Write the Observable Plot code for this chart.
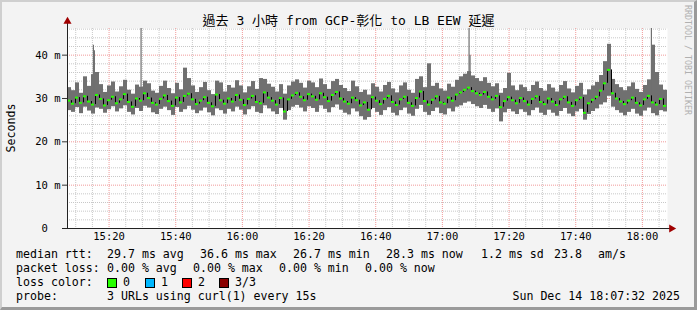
<!DOCTYPE html>
<html>
<head>
<meta charset="utf-8">
<script src="https://cdn.jsdelivr.net/npm/d3@7"></script>
<script src="https://cdn.jsdelivr.net/npm/@observablehq/plot@0.6"></script>
<style>
  html, body { margin: 0; padding: 0; background: #f3f3f3; }
  #wrap { position: relative; width: 697px; height: 310px; background: #f3f3f3; overflow: hidden;
          font-family: "DejaVu Sans Mono", "Noto Sans CJK TC", monospace; color: #000; }
  #wrap svg { position: absolute; left: 0; top: 0; }
  .t { position: absolute; white-space: pre; font-size: 11.6px; line-height: 14px; }
  .box { position: absolute; width: 8px; height: 8px; border: 1px solid #000; }
  #border { position: absolute; inset: 0; box-sizing: border-box; border-style: solid; border-width: 2px 3px 3px 2px;
            border-color: #cfcfcf #9a9a9a #9a9a9a #cfcfcf; pointer-events: none; }
</style>
</head>
<body>
<div id="wrap"></div>
<script>
// ---- data ----
const startMinute = 7.533;   // 15:07:32, minutes after 15:00
const stepMinutes = 1.2;     // one consolidated step
const medians = [
  29.5, 28.8, 30.2, 29.0, 30.5, 29.3, 28.6, 30.8, 29.9, 28.4,
  29.6, 30.4, 28.9, 29.8, 31.0, 29.2, 28.1, 30.0, 29.5, 31.2,
  30.1, 29.0, 28.6, 29.9, 30.7, 29.4, 28.3, 30.2, 29.1, 30.6,
  31.1, 29.8, 28.7, 29.5, 30.3, 29.0, 28.2, 30.9, 29.6, 28.8,
  30.0, 29.3, 30.8, 29.7, 28.5, 29.9, 30.6, 29.2, 28.9, 31.4,
  30.2, 29.5, 28.6, 30.1, 27.0, 29.8, 30.7, 31.3, 30.4, 29.6,
  31.0, 30.5, 29.7, 31.2, 30.3, 29.4, 30.8, 31.5, 30.0, 29.3,
  28.8, 30.2, 29.6, 28.4, 29.1, 27.4, 30.3, 29.5, 28.7, 29.9,
  30.6, 29.2, 28.5, 29.8, 30.4, 29.0, 28.3, 30.1, 31.6, 29.4,
  28.6, 29.7, 30.5, 29.1, 28.8, 30.2, 29.5, 30.9, 31.4, 32.0,
  32.5, 31.7, 31.2, 30.8, 31.5, 30.4, 29.8, 30.6, 28.0, 29.4,
  30.3, 29.6, 28.9, 30.1, 29.4, 28.6, 29.9, 30.5, 29.2, 28.7,
  30.0, 29.3, 28.5, 29.8, 30.4, 29.1, 28.3, 29.6, 30.2, 26.7,
  28.9, 29.7, 30.4, 31.8, 33.5, 36.6, 31.2, 30.0, 29.3, 28.7,
  29.5, 30.2, 29.0, 28.4, 29.8, 30.6, 29.1, 28.6, 29.9, 28.3
];
const lows = [
  27.2, 26.8, 27.9, 26.5, 28.0, 27.1, 26.4, 27.8, 27.5, 26.6,
  27.4, 28.1, 26.9, 27.6, 28.3, 26.8, 26.2, 27.7, 27.0, 28.2,
  27.8, 26.7, 26.3, 27.5, 28.0, 27.2, 26.1, 27.9, 26.8, 27.4,
  28.2, 27.3, 26.5, 27.1, 27.8, 26.7, 26.0, 27.6, 27.2, 26.4,
  27.5, 26.9, 28.0, 27.3, 26.2, 27.4, 28.1, 26.8, 26.5, 28.3,
  27.6, 26.9, 26.3, 27.7, 25.0, 27.2, 28.0, 28.4, 27.8, 26.9,
  28.1, 27.7, 26.8, 28.3, 27.5, 26.7, 27.9, 28.5, 27.3, 26.6,
  26.2, 27.6, 26.9, 25.8, 25.0, 25.6, 27.7, 26.8, 26.1, 27.2,
  27.9, 26.6, 26.0, 27.2, 27.8, 26.4, 25.9, 27.5, 28.4, 26.8,
  26.1, 27.0, 27.8, 26.5, 26.2, 27.6, 26.9, 28.0, 28.3, 28.9,
  29.2, 28.6, 28.1, 27.7, 28.4, 27.5, 26.8, 27.6, 24.6, 26.7,
  27.5, 26.9, 26.3, 27.4, 26.8, 26.0, 27.2, 27.8, 26.6, 26.1,
  27.3, 26.6, 25.9, 27.0, 27.7, 26.4, 25.8, 26.9, 27.5, 25.0,
  26.3, 27.0, 27.6, 28.5, 29.0, 30.5, 28.0, 27.2, 26.6, 26.0,
  26.8, 27.5, 26.4, 25.9, 27.1, 27.8, 26.5, 26.0, 27.2, 26.9
];
const highs = [
  32.5, 31.8, 33.6, 31.2, 35.0, 32.8, 35.5, 36.0, 33.2, 31.4,
  32.9, 33.8, 31.5, 32.7, 34.2, 31.9, 31.0, 33.1, 32.6, 34.0,
  33.4, 31.7, 31.2, 32.8, 34.0, 32.3, 31.1, 33.5, 32.0, 37.0,
  34.6, 32.9, 31.4, 32.5, 33.7, 31.8, 30.9, 34.0, 33.6, 31.5,
  33.0, 32.4, 34.1, 32.9, 31.3, 32.7, 33.9, 32.1, 34.6, 34.4,
  33.3, 32.6, 31.5, 33.2, 31.0, 32.9, 33.8, 34.3, 33.5, 32.4,
  34.0, 33.6, 32.5, 34.5, 33.2, 32.1, 33.9, 34.4, 33.0, 32.3,
  31.6, 34.0, 32.7, 31.4, 31.9, 30.8, 33.4, 32.6, 31.5, 33.0,
  33.7, 32.2, 31.3, 32.9, 33.6, 31.9, 31.2, 34.4, 35.0, 32.5,
  38.0, 32.8, 33.5, 32.2, 31.7, 33.3, 32.6, 34.2, 35.0, 35.6,
  36.2, 35.2, 34.6, 33.9, 34.8, 33.5, 32.7, 33.4, 31.2, 32.3,
  35.8, 32.9, 31.8, 33.1, 32.5, 31.6, 33.0, 33.8, 32.3, 31.7,
  33.2, 32.4, 31.5, 33.0, 33.9, 32.2, 31.3, 32.8, 33.5, 30.8,
  32.0, 32.9, 33.7, 35.3, 38.5, 42.5, 34.4, 33.2, 32.5, 31.8,
  32.7, 33.6, 32.1, 31.4, 33.0, 34.3, 42.3, 36.0, 33.1, 31.9
];
// single narrow probe spikes (minutes after 15:00, ms)
const spikeMinutes = [15.3, 15.6, 29.6, 128.0, 128.3, 182.7];
const spikeValues  = [42.3, 41.0, 46.5, 46.5, 40.0, 46.5];

const yTicks = [0, 10, 20, 30, 40];
const yTickLabels = ["0\u00a0\u00a0", "10 m", "20 m", "30 m", "40 m"];
const xTickLabels = ["15:20", "15:40", "16:00", "16:20", "16:40", "17:00", "17:20", "17:40", "18:00"];
const yMax = 46.15;

const title = "過去 3 小時 from GCP-彰化 to LB EEW 延遲";
const yLabel = "Seconds";
const legendRtt = [["median rtt:", 16], ["29.7 ms avg", 107], ["36.6 ms max", 200], ["26.7 ms min", 293], ["28.3 ms now", 386], ["1.2 ms sd", 481], ["23.8", 554], ["am/s", 598]];
const legendLoss = [["packet loss:", 16], ["0.00 % avg", 107], ["0.00 % max", 193], ["0.00 % min", 279], ["0.00 % now", 365]];
const lossColors = [["0", "#26ff00", 107], ["1", "#00b8ff", 145], ["2", "#ff0000", 182], ["3/3", "#8a0000", 219]];
const probeText = "3 URLs using curl(1) every 15s";
const stamp = "Sun Dec 14 18:07:32 2025";

// ---- build ----
const toMin = s => { const [h, m] = s.split(":").map(Number); return (h - 15) * 60 + m; };
const xTicks = xTickLabels.map(toMin);
const x0 = startMinute, x1 = startMinute + 180;
const rows = medians.map((m, i) => ({
  t: startMinute + i * stepMinutes, t2: startMinute + (i + 1) * stepMinutes,
  med: m, lo: lows[i], hi: highs[i], prev: i > 0 ? medians[i - 1] : m
}));
const spikes = spikeMinutes.map((t, i) => ({ t, v: spikeValues[i] }));
const minorX = d3.range(10, 186, 5).filter(v => v % 20 !== 0);
const minorY = d3.range(2, 46.1, 2).filter(v => v % 10 !== 0);
const mono = "DejaVu Sans Mono, monospace";

const chart = Plot.plot({
  width: 697, height: 245,
  marginLeft: 67, marginRight: 30, marginTop: 28, marginBottom: 17,
  style: { background: "transparent", fontFamily: mono, color: "#000", overflow: "visible" },
  x: { domain: [x0, x1], axis: null },
  y: { domain: [0, yMax], axis: null },
  marks: [
    Plot.frame({ fill: "white", stroke: null }),
    Plot.gridX(minorX, { stroke: "#c8c8c8", strokeOpacity: 1, strokeDasharray: "1,1" }),
    Plot.gridY(minorY, { stroke: "#c8c8c8", strokeOpacity: 1, strokeDasharray: "1,1" }),
    Plot.gridX(xTicks, { stroke: "#f19a9a", strokeOpacity: 1, strokeDasharray: "1,1" }),
    Plot.gridY(yTicks.filter(v => v > 0), { stroke: "#f19a9a", strokeOpacity: 1, strokeDasharray: "1,1" }),
    Plot.rectY(rows, { x1: "t", x2: "t2", y1: "lo", y2: "hi", fill: "#707070", clip: true }),
    Plot.ruleX(spikes, { x: "t", y1: 30, y2: "v", stroke: "#707070", strokeWidth: 1.2, clip: true }),
    Plot.ruleX(rows.slice(1), { x: "t", y1: "prev", y2: "med", stroke: "#000", strokeWidth: 1 }),
    Plot.ruleY(rows, { y: "med", x1: "t", x2: "t2", stroke: "#26ff00", strokeWidth: 2, insetRight: 1 }),
    Plot.axisY(yTicks, { tickSize: 5, tickPadding: 2, tickFormat: (d, i) => yTickLabels[i], fontSize: 10.5, stroke: "#333" }),
    Plot.axisX(xTicks, { tickSize: 0, tickPadding: 4, tickFormat: (d, i) => xTickLabels[i], fontSize: 10.5 }),
    Plot.ruleY([0], { stroke: "#222", insetLeft: -5, insetRight: -4 }),
    Plot.ruleX([x0], { stroke: "#222", insetTop: -6 }),
    Plot.dot([[x0, yMax]], { symbol: "triangle", fill: "#a00000", r: 3, dy: -7 }),
    Plot.dot([[x1, 0]], { symbol: "triangle", fill: "#a00000", r: 3, dx: 4, rotate: 90 })
  ]
});

const wrap = document.getElementById("wrap");
wrap.appendChild(chart);

function addText(txt, left, top, extra) {
  const d = document.createElement("div");
  d.className = "t";
  d.textContent = txt;
  d.style.left = left + "px";
  d.style.top = top + "px";
  if (extra) Object.assign(d.style, extra);
  wrap.appendChild(d);
  return d;
}
addText(title, 0, 13, { width: "697px", textAlign: "center", fontSize: "13px", lineHeight: "16px" });
addText(yLabel, -39, 121, { width: "100px", textAlign: "center", transform: "rotate(-90deg)" });
addText("RRDTOOL / TOBI OETIKER", 683, 5, { writingMode: "vertical-rl", fontSize: "8.3px", lineHeight: "10px", color: "#b0b0b0" });

legendRtt.forEach(([s, x]) => addText(s, x, 247));
legendLoss.forEach(([s, x]) => addText(s, x, 261));
addText("loss color:", 16, 275);
lossColors.forEach(([s, c, x]) => {
  const b = document.createElement("div");
  b.className = "box";
  b.style.left = x + "px"; b.style.top = "278px"; b.style.background = c;
  wrap.appendChild(b);
  addText(s, x + 16, 275);
});
addText("probe:", 16, 289);
addText(probeText, 107, 289);
addText(stamp, 0, 289, { width: "680px", textAlign: "right" });

const border = document.createElement("div");
border.id = "border";
wrap.appendChild(border);
</script>
</body>
</html>
